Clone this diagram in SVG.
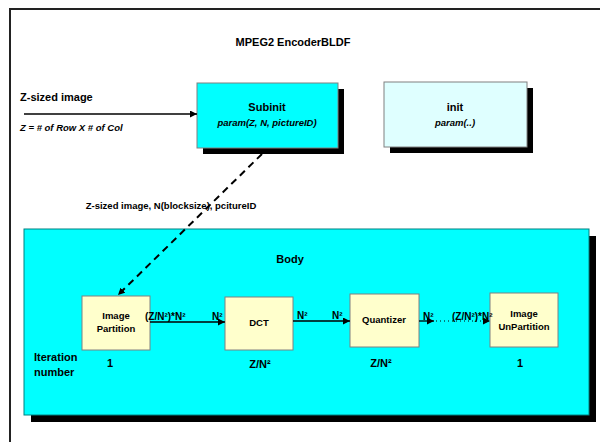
<svg xmlns="http://www.w3.org/2000/svg" width="600" height="442" viewBox="0 0 600 442">
<style>
text{font-family:"Liberation Sans",Arial,sans-serif;font-weight:bold;fill:#000}
.big{font-size:11px}
.sm{font-size:9.5px}
.lbl{font-size:10px}
.it{font-style:italic;font-size:9.5px}
.mid{text-anchor:middle}
.shadow{fill:#000}
.box{fill:#FFFFCC;stroke:#808080;stroke-width:1}
.edge{stroke:#000;stroke-width:1.3;fill:none}
</style>
<defs>
<marker id="ah" viewBox="0 0 10 10" refX="10" refY="5" markerWidth="7" markerHeight="7" markerUnits="userSpaceOnUse" orient="auto"><path d="M0,0 L10,5 L0,10 z" fill="#000"/></marker>
</defs>
<rect width="600" height="442" fill="#fff"/>
<g id="frame">
<path d="M10,442 V9 H600" fill="none" stroke="#222" stroke-width="2"/>
<text class="big mid" x="293" y="46">MPEG2 EncoderBLDF</text>
</g>
<g id="input">
<text class="big" x="20" y="101">Z-sized image</text>
<text class="it" x="20" y="131">Z = # of Row X  # of Col</text>
</g>
<g id="subinit">
<rect class="shadow" x="203" y="89" width="141" height="65"/>
<rect x="197" y="83" width="141" height="65" fill="#00FFFF" stroke="#808080"/>
<text class="big mid" x="267" y="111">Subinit</text>
<text class="it mid" x="267" y="126">param(Z, N, pictureID)</text>
</g>
<g id="init">
<rect class="shadow" x="390" y="88" width="143" height="65"/>
<rect x="384" y="82" width="143" height="65" fill="#DFFFFF" stroke="#808080"/>
<text class="big mid" x="455" y="111">init</text>
<text class="it mid" x="455" y="126">param(..)</text>
</g>
<g id="body">
<rect class="shadow" x="31" y="236" width="565" height="186"/>
<rect x="24" y="229" width="565" height="186" fill="#00FFFF" stroke="#008080"/>
<text class="big mid" x="290" y="263">Body</text>
<text class="big" x="34" y="361">Iteration</text>
<text class="big" x="34" y="376">number</text>
</g>
<g id="imagePartition">
<rect class="box" x="82" y="296" width="68" height="54"/>
<text class="sm mid" x="116" y="319">Image</text>
<text class="sm mid" x="116" y="332">Partition</text>
<text class="big mid" x="110" y="367">1</text>
</g>
<g id="dct">
<rect class="box" x="225" y="297" width="68" height="53"/>
<text class="sm mid" x="259" y="326">DCT</text>
<text class="big mid" x="260" y="368">Z/N²</text>
</g>
<g id="quantizer">
<rect class="box" x="350" y="294" width="69" height="53"/>
<text class="sm mid" x="384" y="323">Quantizer</text>
<text class="big mid" x="381" y="367">Z/N²</text>
</g>
<g id="imageUnPartition">
<rect class="box" x="490" y="293" width="68" height="54"/>
<text class="sm mid" x="524" y="317">Image</text>
<text class="sm mid" x="524" y="330">UnPartition</text>
<text class="big mid" x="520" y="367">1</text>
</g>
<g id="connectors">
<line class="edge" x1="24" y1="114" x2="197" y2="114" marker-end="url(#ah)"/>
<line x1="262" y1="154" x2="118" y2="295" stroke="#000" stroke-width="2" stroke-dasharray="7,5" marker-end="url(#ah)"/>
<text class="sm mid" x="171" y="209">Z-sized image, N(blocksize), pcitureID</text>
<line class="edge" x1="150" y1="322" x2="225" y2="322" marker-end="url(#ah)"/>
<text class="lbl" x="145" y="320">(Z/N²)*N²</text>
<text class="lbl" x="212" y="320">N²</text>
<line class="edge" x1="293" y1="321" x2="350" y2="321" marker-end="url(#ah)"/>
<text class="lbl" x="297" y="319">N²</text>
<text class="lbl" x="332" y="319">N²</text>
<line class="edge" x1="419" y1="321" x2="434" y2="321" marker-end="url(#ah)"/>
<line x1="436" y1="321" x2="490" y2="321" stroke="#000" stroke-width="1" stroke-dasharray="1,3" marker-end="url(#ah)"/>
<text class="lbl" x="423" y="320">N²</text>
<text class="lbl" x="452" y="320">(Z/N²)*N²</text>
</g>
</svg>
